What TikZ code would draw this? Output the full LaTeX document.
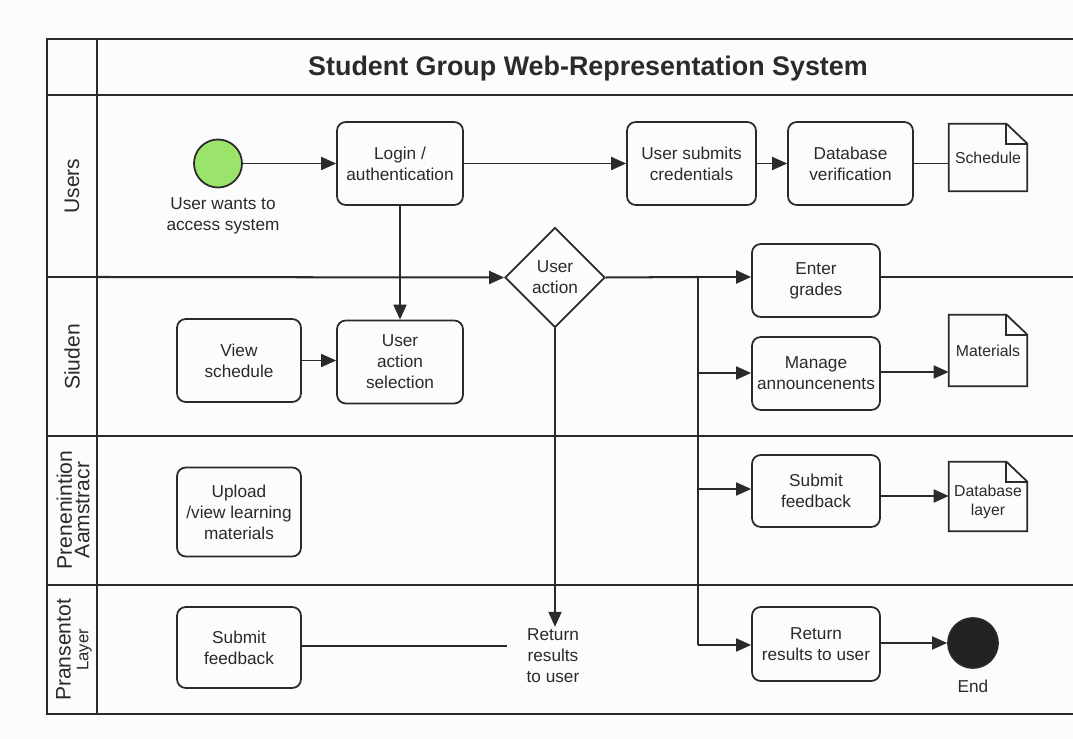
\documentclass[tikz,border=0pt]{standalone}
\usepackage{fontspec}
\setmainfont{Liberation Sans}
\usetikzlibrary{arrows.meta,shapes.geometric,calc}

\definecolor{ink}{HTML}{2A2A2A}
\definecolor{startgreen}{HTML}{9BE36A}
\definecolor{endblack}{HTML}{222222}
\definecolor{paper}{HTML}{FCFCFC}

\newcommand{\docframe}[1]{%
  \draw[docline] (#1.north west) -- ([xshift=-0.42cm]#1.north east)
    -- ([yshift=-0.4cm]#1.north east) -- (#1.south east) -- (#1.south west) -- cycle;
  \draw[docline] ([xshift=-0.42cm]#1.north east) |- ([yshift=-0.4cm]#1.north east);}

\begin{document}
\begin{tikzpicture}[x=0.02cm, y=-0.02cm,
  every node/.style={text=ink, font=\fontsize{9.8}{12}\selectfont},
  frameline/.style={draw=ink, line width=1.15pt},
  docline/.style={draw=ink, line width=1pt, line join=miter},
  actbox/.style={draw=ink, line width=1pt, rounded corners=5pt, align=center,
    inner sep=2pt},
  docbox/.style={align=center, inner sep=1pt, font=\fontsize{9}{10.6}\selectfont},
  decision/.style={draw=ink, line width=1pt, diamond, aspect=1, inner sep=0pt,
    minimum width=100*0.02cm, minimum height=100*0.02cm, align=center, fill=paper},
  flow/.style={draw=ink, line width=1pt, -{Triangle[length=8.5pt,width=7.4pt]}},
  plain/.style={draw=ink, line width=1pt},
  lanelabel/.style={rotate=90, align=center, font=\fontsize{12}{10}\selectfont},
  freetext/.style={align=center, inner sep=1pt}]

\useasboundingbox[fill=paper] (0,0) rectangle (1073,739);

% swimlane frame
\draw[frameline] (1073,39) -- (47,39) -- (47,714) -- (1073,714);
\draw[frameline] (97,39) -- (97,714);
\draw[frameline] (47,95) -- (1073,95);
\draw[frameline] (47,436) -- (1073,436);
\draw[frameline] (47,585) -- (1073,585);

% title and lane names
\node[font=\fontsize{15.3}{18}\selectfont\bfseries] (title) at (588,69)
  {Student Group Web-Representation System};
\node[lanelabel] (laneA) at (72,186) {Users};
\node[lanelabel] (laneB) at (72,357) {Siuden};
\node[lanelabel] (laneC) at (73,510) {Prenenintion\\Aamstracr};
\node[lanelabel] (laneD) at (74,650) {Pransentot\\{\fontsize{9.5}{10}\selectfont Layer}};

% start / end
\node[circle, draw=ink, line width=1pt, fill=startgreen, minimum size=48*0.02cm,
  inner sep=0pt] (start) at (218,163.5) {};
\node[freetext] (startlbl) at (223,216) {User wants to\\access system};
\node[circle, draw=ink, line width=1pt, fill=endblack, minimum size=50*0.02cm,
  inner sep=0pt] (finish) at (973,643) {};
\node[freetext] (endlbl) at (973,686) {End};

% activities
\node[actbox, minimum width=126*0.02cm, minimum height=83*0.02cm] (login) at (400,163.5)
  {Login /\\authentication};
\node[actbox, minimum width=129*0.02cm, minimum height=83*0.02cm] (submits) at (691.5,163.5)
  {User submits\\credentials};
\node[actbox, minimum width=125*0.02cm, minimum height=83*0.02cm] (dbver) at (850.5,163.5)
  {Database\\verification};
\node[actbox, minimum width=124*0.02cm, minimum height=83*0.02cm] (viewsched) at (239,360.5)
  {View\\schedule};
\node[actbox, minimum width=126*0.02cm, minimum height=83*0.02cm] (select) at (400,362)
  {User\\action\\selection};
\node[actbox, minimum width=124*0.02cm, minimum height=89*0.02cm] (upload) at (239,512)
  {Upload\\/view learning\\materials};
\node[actbox, minimum width=124*0.02cm, minimum height=81*0.02cm] (feedbackL) at (239,647.5)
  {Submit\\feedback};
\node[actbox, minimum width=128*0.02cm, minimum height=73*0.02cm] (grades) at (816,280.5)
  {Enter\\grades};
\node[actbox, minimum width=128*0.02cm, minimum height=73*0.02cm] (announce) at (816,373.5)
  {Manage\\announcenents};
\node[actbox, minimum width=128*0.02cm, minimum height=72*0.02cm] (feedbackR) at (816,491)
  {Submit\\feedback};
\node[actbox, minimum width=128*0.02cm, minimum height=74*0.02cm] (retbox) at (816,644)
  {Return\\results to user};
\node[decision] (choice) at (555,277.5) {User\\action};
\node[freetext] (rettext) at (553,656) {Return\\results\\to user};

% documents
\node[docbox, minimum width=78*0.02cm, minimum height=67*0.02cm] (schedule) at (988,157.5) {Schedule};
\node[docbox, minimum width=78*0.02cm, minimum height=71*0.02cm] (materials) at (988,350.5) {Materials};
\node[docbox, minimum width=78*0.02cm, minimum height=69*0.02cm] (dblayer) at (988,496.5) {};
\node[docbox] (dblayertext) at (988,502) {Database\\layer};
\docframe{schedule}
\docframe{materials}
\docframe{dblayer}

% branch point on the lane boundary
\coordinate (fork) at (698,277);
\coordinate (laneedge) at (47,277);
\coordinate (rightedge) at (1073,277);

% connectors
\draw[flow] (start) -- (start -| login.west);
\draw[flow] (login) -- (submits);
\draw[flow] (submits) -- (dbver);
\draw[plain] (dbver) -- (dbver -| schedule.west);
\draw[flow] (login) -- (select);
\draw[flow] (viewsched) -- (viewsched -| select.west);
\draw[frameline] (laneedge) -- (97,277);
\draw[flow, line width=1.15pt] (97,277) -- (choice.west);
\draw[frameline] (choice.east) -- (fork);
\draw[flow, line width=1.15pt] (fork) -- (fork -| grades.west);
\draw[frameline] (grades.east |- rightedge) -- (rightedge);
\draw[plain] (fork) -- (698,645);
\draw[flow] (698,373) -- (698,373 -| announce.west);
\draw[flow] (698,489) -- (698,489 -| feedbackR.west);
\draw[flow] (698,645) -- (698,645 -| retbox.west);
\draw[flow] (announce.east |- 0,372) -- (materials.west |- 0,372);
\draw[flow] (feedbackR.east |- 0,496) -- (dblayer.west |- 0,496);
\draw[flow] (retbox.east |- finish) -- (finish.west);
\draw[flow] (choice.south) -- (choice.south |- rettext.north);
\draw[plain] (feedbackL.east |- 0,646) -- (507,646);

\end{tikzpicture}
\end{document}
